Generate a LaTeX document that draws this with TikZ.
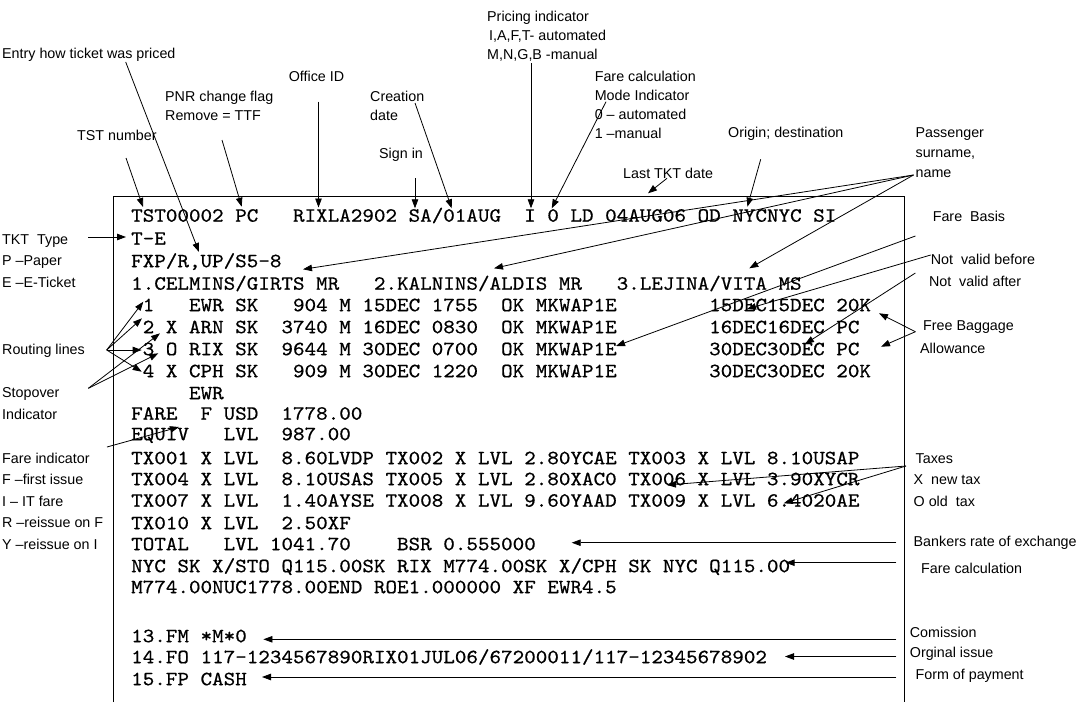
\documentclass[tikz,border=0pt]{standalone}
\usepackage{fontspec}
\newfontfamily\lbfont{Liberation Sans}
\newfontfamily\tstfont[FakeStretch=1.09,FakeBold=0.6]{lmmono10-regular.otf}
\usetikzlibrary{arrows.meta}
\frenchspacing
\begin{document}
\begin{tikzpicture}[x=1pt,y=-1pt,
  lbl/.style={font=\lbfont\fontsize{14.3}{19}\selectfont, inner sep=0pt, anchor=west},
  mlbl/.style={font=\lbfont\fontsize{14.3}{#1}\selectfont, inner sep=0pt, anchor=north west, align=left},
  row/.style={font=\tstfont\fontsize{20.2}{22}\selectfont, inner sep=0pt, anchor=base west},
  arr/.style={-{Triangle[length=9pt,width=6.5pt]}, line width=0.8pt},
  ln/.style={line width=0.8pt}]
\useasboundingbox (0,0) rectangle (1079,702);
% frame
\coordinate (boxBL) at (113,702);
\coordinate (boxTL) at (113,196);
\coordinate (boxTR) at (904,196);
\coordinate (boxBR) at (904,702);
\draw[ln] (boxBL) -- (boxTL) -- (boxTR) -- (boxBR);

% TST text rows
\node[row] (R1) at (131,221.7) {TST00002~PC~~~RIXLA2902~SA/01AUG~~I~0~LD~04AUG06~OD~NYCNYC~SI};
\node[row] (R2) at (131,244.7) {T-E};
\node[row] (R3) at (131,267.2) {FXP/R,UP/S5-8};
\node[row] (R4) at (131,289.7) {1.CELMINS/GIRTS~MR~~~2.KALNINS/ALDIS~MR~~~3.LEJINA/VITA~MS};
\node[row] (R5) at (131,311.2) {~1~~~EWR~SK~~~904~M~15DEC~1755~~OK~MKWAP1E~~~~~~~~15DEC15DEC~20K};
\node[row] (R6) at (131,333.2) {~2~X~ARN~SK~~3740~M~16DEC~0830~~OK~MKWAP1E~~~~~~~~16DEC16DEC~PC};
\node[row] (R7) at (131,355.2) {~3~O~RIX~SK~~9644~M~30DEC~0700~~OK~MKWAP1E~~~~~~~~30DEC30DEC~PC};
\node[row] (R8) at (131,377.2) {~4~X~CPH~SK~~~909~M~30DEC~1220~~OK~MKWAP1E~~~~~~~~30DEC30DEC~20K};
\node[row] (R9) at (131,399.2) {~~~~~EWR};
\node[row] (R10) at (131,419.7) {FARE~~F~USD~~1778.00};
\node[row] (R11) at (131,440.2) {EQUIV~~~LVL~~987.00};
\node[row] (R12) at (131,464.2) {TX001~X~LVL~~8.60LVDP~TX002~X~LVL~2.80YCAE~TX003~X~LVL~8.10USAP};
\node[row] (R13) at (131,485.2) {TX004~X~LVL~~8.10USAS~TX005~X~LVL~2.80XAC0~TX006~X~LVL~3.90XYCR};
\node[row] (R14) at (131,506.7) {TX007~X~LVL~~1.40AYSE~TX008~X~LVL~9.60YAAD~TX009~X~LVL~6.4020AE};
\node[row] (R15) at (131,529.2) {TX010~X~LVL~~2.50XF};
\node[row] (R16) at (131,550.2) {TOTAL~~~LVL~1041.70~~~~BSR~0.555000};
\node[row] (R17) at (131,572.2) {NYC~SK~X/STO~Q115.00SK~RIX~M774.00SK~X/CPH~SK~NYC~Q115.00};
\node[row] (R18) at (131,593.2) {M774.00NUC1778.00END~ROE1.000000~XF~EWR4.5};
\node[row] (R19) at (131,642.2) {13.FM~*M*0};
\node[row] (R20) at (131,663.2) {14.FO~117-1234567890RIX01JUL06/67200011/117-12345678902};
\node[row] (R21) at (131,685.2) {15.FP~CASH};

% top labels
\node[lbl] (Lentry) at (2,55) {Entry how ticket was priced};
\node[lbl] (Ltst) at (77,135) {TST number};
\node[mlbl=18.5] (Lpnr) at (165,91) {PNR change flag\\Remove = TTF};
\node[lbl] (Loffice) at (288.6,76.7) {Office ID};
\node[mlbl=18.5] (Lcreat) at (370,91) {Creation\\date};
\node[lbl] (Lsign) at (379,155) {Sign in};
\node[mlbl=19] (Lpric) at (487,11.2) {Pricing indicator\\\hspace*{2pt}I,A,F,T- automated\\M,N,G,B -manual};
\node[mlbl=19.1] (Lfcm) at (594.6,70.5) {Fare calculation\\Mode Indicator\\0 – automated\\1 –manual};
\node[lbl] (Lorig) at (728,133.3) {Origin; destination};
\node[lbl] (Llast) at (623,173.3) {Last TKT date};
\node[mlbl=20] (Lpass) at (915.4,127.8) {Passenger\\surname,\\name};

% right labels
\node[lbl] (Lfb) at (932.6,216) {Fare\ \ Basis};
\node[lbl] (Lnvb) at (930.7,259.3) {Not\ \ valid before};
\node[lbl] (Lnva) at (928.8,281.7) {Not\ \ valid after};
\node[mlbl=23.3] (Lbag) at (920,320.2) {\hspace*{3pt}Free Baggage\\Allowance};
\node[mlbl=21.3] (Ltax) at (913.5,453.5) {\hspace*{2pt}Taxes\\X\ \ new tax\\O old\ \ tax};
\node[lbl] (Lbsr) at (913.5,542.7) {Bankers rate of exchange};
\node[lbl] (Lfc) at (921,568.3) {Fare calculation};
\node[lbl] (Lcom) at (909.7,632.7) {Comission};
\node[lbl] (Lorg) at (909.7,653.3) {Orginal issue};
\node[lbl] (Lfop) at (915.4,676) {Form of payment};

% left labels
\node[mlbl=21.3] (Ltkt) at (2,234.5) {TKT\ \ Type\\P –Paper\\E –E-Ticket};
\node[lbl] (Lrout) at (2,350.7) {Routing lines};
\node[mlbl=21.7] (Lstop) at (2,387.8) {Stopover\\Indicator};
\node[mlbl=21.5] (Lfind) at (2,452.8) {Fare indicator\\F –first issue\\I – IT fare\\R –reissue on F\\Y –reissue on I};

% connector ends
\coordinate (entryS) at (125.7,62);   \coordinate (entryT) at (199,252);
\coordinate (tstS) at (126,158);      \coordinate (tstT) at (143,207);
\coordinate (pnrS) at (222,140);      \coordinate (pnrT) at (241.7,206.7);
\coordinate (offS) at (318.5,101.7);  \coordinate (offT) at (318.5,207.5);
\coordinate (creS) at (415,103);      \coordinate (creT) at (451.7,208.3);
\coordinate (sigS) at (415,178);      \coordinate (sigT) at (415,208.3);
\coordinate (priS) at (531,63.3);     \coordinate (priT) at (531,208.3);
\coordinate (fcmS) at (606,101.7);    \coordinate (fcmT) at (551.7,208.3);
\coordinate (oriS) at (760.7,159.3);  \coordinate (oriT) at (747.4,206.7);
\coordinate (lstS) at (667,178.3);    \coordinate (lstT) at (648,193.3);
\coordinate (pasS) at (913.5,175);
\coordinate (pasT1) at (303,269.3);   \coordinate (pasT2) at (494,268.3);  \coordinate (pasT3) at (749.3,268.3);
\coordinate (fbS) at (915.4,236);     \coordinate (fbT) at (616,346);
\coordinate (nvbS) at (930.7,255);    \coordinate (nvbT) at (747,309);
\coordinate (nvaS) at (915.4,273);    \coordinate (nvaT) at (805,344);
\coordinate (bagS) at (915.4,331.7);  \coordinate (bagT1) at (879,313.3); \coordinate (bagT2) at (881,346.7);
\coordinate (tktS) at (88,237);       \coordinate (tktT) at (126,237);
\coordinate (rouS) at (106.7,350);
\coordinate (rouT1) at (143.3,301.7); \coordinate (rouT2) at (142,318.3);
\coordinate (rouT3) at (141.7,350);   \coordinate (rouT4) at (141.7,371.7);
\coordinate (stoS) at (88.3,388.3);   \coordinate (stoT1) at (160,333.3); \coordinate (stoT2) at (158.3,353.3);
\coordinate (finS) at (107,447);      \coordinate (finT) at (179,427);
\coordinate (taxS) at (906,466);      \coordinate (taxT1) at (667,485);   \coordinate (taxT2) at (783.7,503.3);
\coordinate (bsrS) at (896.4,542.7);  \coordinate (bsrT) at (571.7,542.7);
\coordinate (fcS) at (896.4,562.7);   \coordinate (fcT) at (785.6,562.7);
\coordinate (comS) at (896.4,639.3);  \coordinate (comT) at (263.4,639.3);
\coordinate (orgS) at (896.4,656.5);  \coordinate (orgT) at (785,656.5);
\coordinate (fopS) at (896.4,677);    \coordinate (fopT) at (262,677);

% connectors
\draw[arr] (entryS) -- (entryT);
\draw[arr] (tstS) -- (tstT);
\draw[arr] (pnrS) -- (pnrT);
\draw[arr] (offS) -- (offT);
\draw[arr] (creS) -- (creT);
\draw[arr] (sigS) -- (sigT);
\draw[arr] (priS) -- (priT);
\draw[arr] (fcmS) -- (fcmT);
\draw[arr] (oriS) -- (oriT);
\draw[arr] (lstS) -- (lstT);
\draw[arr] (pasS) -- (pasT1);
\draw[arr] (pasS) -- (pasT2);
\draw[arr] (pasS) -- (pasT3);
\draw[arr] (fbS) -- (fbT);
\draw[arr] (nvbS) -- (nvbT);
\draw[arr] (nvaS) -- (nvaT);
\draw[arr] (bagS) -- (bagT1);
\draw[arr] (bagS) -- (bagT2);
\draw[arr] (tktS) -- (tktT);
\draw[arr] (rouS) -- (rouT1);
\draw[arr] (rouS) -- (rouT2);
\draw[arr] (rouS) -- (rouT3);
\draw[arr] (rouS) -- (rouT4);
\draw[arr] (stoS) -- (stoT1);
\draw[arr] (stoS) -- (stoT2);
\draw[arr] (finS) -- (finT);
\draw[arr] (taxS) -- (taxT1);
\draw[arr] (taxS) -- (taxT2);
\draw[arr] (bsrS) -- (bsrT);
\draw[arr] (fcS) -- (fcT);
\draw[arr] (comS) -- (comT);
\draw[arr] (orgS) -- (orgT);
\draw[arr] (fopS) -- (fopT);
\end{tikzpicture}
\end{document}
